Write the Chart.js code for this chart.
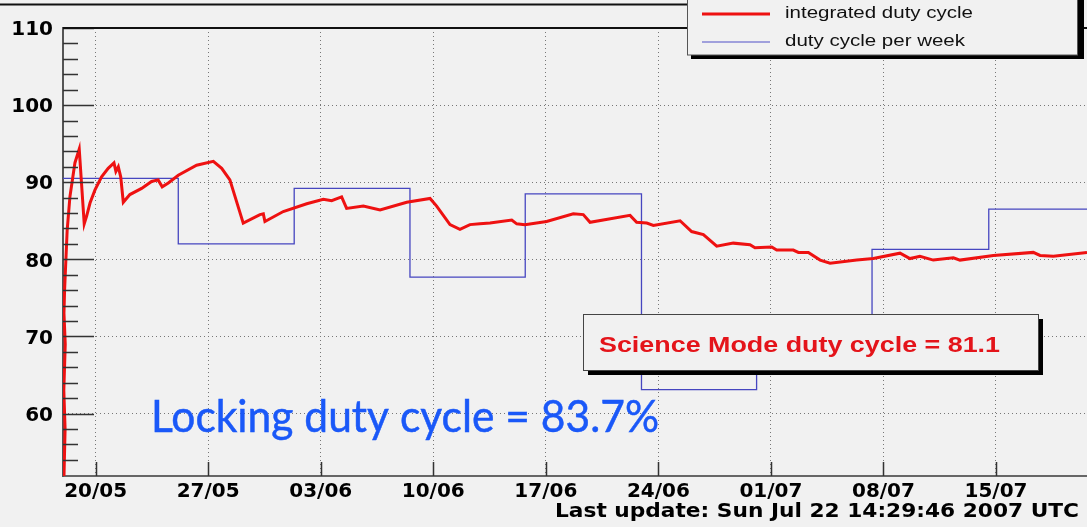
<!DOCTYPE html>
<html>
<head>
<meta charset="utf-8">
<script src="https://cdn.jsdelivr.net/npm/chart.js@4.4.1/dist/chart.umd.min.js"></script>
<style>
  html, body { margin: 0; padding: 0; background: #f1f1f1; }
  canvas { display: block; }
</style>
</head>
<body>
<canvas id="myChart" width="1087" height="527"></canvas>
<script>
// x axis: days counted from 20/05/2007
const tickDays = [0, 7, 14, 21, 28, 35, 42, 49, 56];
const tickLabels = ['20/05', '27/05', '03/06', '10/06', '17/06', '24/06', '01/07', '08/07', '15/07'];
const yTicks = [60, 70, 80, 90, 100, 110];

// integrated duty cycle (red)
const intDays = [-1.99, -1.90, -1.98, -1.89, -1.97, -1.93, -1.77, -1.60, -1.29, -1.02, -0.71, -0.56, -0.35, -0.04, 0.37, 0.78, 1.14, 1.26,
  1.41, 1.56, 1.72, 2.13, 2.86, 3.48, 3.89, 4.14, 4.52, 5.14, 6.28, 7.32, 7.84, 8.35, 9.18,
  10.22, 10.43, 10.53, 11.67, 13.13, 14.16, 14.68, 15.30, 15.61, 16.65, 17.69, 19.35, 20.80, 21.21, 22.04,
  22.66, 23.28, 23.90, 24.53, 25.88, 26.19, 26.70, 28.05, 29.71, 30.33, 30.75, 33.24, 33.65, 34.28, 34.69,
  36.35, 37.07, 37.80, 38.63, 39.66, 40.70, 41.01, 42.05, 42.36, 43.39, 43.71, 44.33, 45.06, 45.68, 47.34,
  48.37, 50.03, 50.65, 51.27, 52.10, 53.35, 53.76, 55.84, 58.32, 58.74, 59.57, 61.66];
const intValues = [50.0, 58.0, 63.0, 69.0, 73.0, 76.1, 83.8, 88.1, 92.5, 94.3, 84.6, 85.6, 87.3, 89.0, 90.7, 91.8, 92.5, 91.4,
  92.0, 90.7, 87.4, 88.4, 89.2, 90.1, 90.3, 89.4, 89.9, 90.9, 92.2, 92.7, 91.8, 90.3, 84.7,
  85.8, 85.9, 84.9, 86.2, 87.2, 87.8, 87.6, 88.1, 86.6, 86.9, 86.4, 87.4, 87.9, 86.9, 84.5,
  83.9, 84.5, 84.6, 84.7, 85.1, 84.6, 84.5, 84.9, 85.9, 85.8, 84.8, 85.7, 84.8, 84.7, 84.4,
  85.0, 83.6, 83.2, 81.7, 82.1, 81.9, 81.5, 81.6, 81.2, 81.2, 80.9, 80.9, 79.9, 79.5, 79.9,
  80.1, 80.8, 80.1, 80.4, 79.9, 80.2, 79.9, 80.5, 80.9, 80.5, 80.4, 80.9];

// duty cycle per week (blue), bin start days and values
const weekStart = [-2.03, 5.14, 12.35, 19.55, 26.72, 33.95, 41.11, 48.29, 55.55, 61.66];
const weekValues = [90.5, 82.0, 89.2, 77.7, 88.5, 63.1, 67.5, 81.3, 86.5, 86.5];

const BG = '#f1f1f1';

function stretchText(ctx, text, x, y, width, stroke) {
  const m = ctx.measureText(text).width;
  ctx.save();
  ctx.translate(x, y);
  ctx.scale(width / m, 1);
  ctx.textAlign = 'left';
  ctx.fillText(text, 0, 0);
  if (stroke) {
    ctx.lineWidth = stroke;
    ctx.strokeStyle = ctx.fillStyle;
    ctx.strokeText(text, 0, 0);
  }
  ctx.restore();
}

const rootStyle = {
  id: 'rootStyle',
  beforeDraw(chart) {
    const ctx = chart.ctx;
    ctx.save();
    ctx.fillStyle = BG;
    ctx.fillRect(0, 0, chart.width, chart.height);
    ctx.restore();
  },
  afterDatasetsDraw(chart) {
    const {ctx, chartArea: a, scales: {x, y}} = chart;
    ctx.save();
    // inner tick marks
    ctx.strokeStyle = '#333';
    ctx.lineWidth = 1.5;
    ctx.beginPath();
    for (let v = 54; v <= 110; v += 2) {
      const py = Math.round(y.getPixelForValue(v)) + 0.5;
      const len = v % 10 === 0 ? 31 : 15;
      ctx.moveTo(a.left, py);
      ctx.lineTo(a.left + len, py);
    }
    tickDays.forEach(d => {
      const px = Math.round(x.getPixelForValue(d)) + 0.5;
      ctx.moveTo(px, a.bottom);
      ctx.lineTo(px, a.bottom - 14);
    });
    ctx.stroke();
    // top frame
    ctx.strokeStyle = '#111';
    ctx.lineWidth = 2;
    ctx.beginPath();
    ctx.moveTo(a.left, a.top);
    ctx.lineTo(a.right, a.top);
    ctx.stroke();
    ctx.restore();
  },
  afterDraw(chart) {
    const ctx = chart.ctx;
    ctx.save();
    // title box edge at top
    ctx.strokeStyle = '#111';
    ctx.lineWidth = 2;
    ctx.beginPath();
    ctx.moveTo(0, 4.5);
    ctx.lineTo(857, 4.5);
    ctx.lineTo(857, -2);
    ctx.stroke();

    // legend box
    ctx.fillStyle = '#000';
    ctx.fillRect(691, 55, 392, 4);
    ctx.fillRect(1078, 0, 6, 59);
    ctx.fillStyle = BG;
    ctx.fillRect(687, -2, 391, 57);
    ctx.strokeStyle = '#555';
    ctx.lineWidth = 1;
    ctx.strokeRect(687.5, -2, 390, 57);
    ctx.lineWidth = 3;
    ctx.strokeStyle = '#ee1111';
    ctx.beginPath(); ctx.moveTo(702, 14); ctx.lineTo(770, 14); ctx.stroke();
    ctx.lineWidth = 1.2;
    ctx.strokeStyle = '#5050c8';
    ctx.beginPath(); ctx.moveTo(702, 42); ctx.lineTo(770, 42); ctx.stroke();
    ctx.fillStyle = '#111';
    ctx.font = '16px "Liberation Sans", Arial, sans-serif';
    ctx.textBaseline = 'middle';
    stretchText(ctx, 'integrated duty cycle', 785, 14, 188);
    stretchText(ctx, 'duty cycle per week', 785, 42, 180);

    // science mode box
    ctx.fillStyle = '#000';
    ctx.fillRect(588, 319, 455, 56);
    ctx.fillStyle = BG;
    ctx.fillRect(583.5, 314.5, 455, 56);
    ctx.strokeStyle = '#444';
    ctx.lineWidth = 1;
    ctx.strokeRect(583.5, 314.5, 455, 56);
    ctx.fillStyle = '#e4141a';
    ctx.font = 'bold 22px "Liberation Sans", Arial, sans-serif';
    ctx.textBaseline = 'alphabetic';
    stretchText(ctx, 'Science Mode duty cycle = 81.1', 599, 351.5, 401);

    // locking text
    ctx.fillStyle = '#1a58f8';
    ctx.font = '44px Lato, "Open Sans", sans-serif';
    stretchText(ctx, 'Locking duty cycle = 83.7%', 151, 431.5, 508, 0.5);

    // last update line
    ctx.fillStyle = '#000';
    ctx.font = 'bold 20px "DejaVu Sans", sans-serif';
    ctx.textBaseline = 'middle';
    stretchText(ctx, 'Last update: Sun Jul 22 14:29:46 2007 UTC', 555, 512, 524);
    ctx.restore();
  }
};

const renderChart = () => {
  const ctx = document.getElementById('myChart').getContext('2d');
  new Chart(ctx, {
    type: 'line',
    data: {
      datasets: [{
        label: 'integrated duty cycle',
        data: intDays.map((d, i) => ({x: d, y: intValues[i]})),
        borderColor: '#ee1111',
        borderWidth: 3,
        pointRadius: 0,
        tension: 0,
        order: 1
      }, {
        label: 'duty cycle per week',
        data: weekStart.map((d, i) => ({x: d, y: weekValues[i]})),
        borderColor: '#4646c0',
        borderWidth: 1.3,
        pointRadius: 0,
        stepped: true,
        order: 2
      }]
    },
    options: {
      responsive: false,
      devicePixelRatio: 1,
      animation: false,
      layout: { padding: { top: 28, right: 0, left: 0, bottom: 0 } },
      plugins: { legend: { display: false }, tooltip: { enabled: false } },
      scales: {
        x: {
          type: 'linear',
          min: -2.03,
          max: 61.66,
          afterBuildTicks: s => { s.ticks = tickDays.map(v => ({value: v})); },
          afterFit: s => { s.height = 51; },
          ticks: {
            autoSkip: false,
            maxRotation: 0,
            padding: 4,
            color: '#000',
            font: { family: '"DejaVu Sans", sans-serif', size: 20, weight: 'bold' },
            callback: v => tickLabels[tickDays.indexOf(v)]
          },
          grid: { color: '#777', lineWidth: 1, drawTicks: false },
          border: { display: true, color: '#666', width: 2, dash: [1, 3] }
        },
        y: {
          min: 51.9,
          max: 110,
          afterBuildTicks: s => { s.ticks = yTicks.map(v => ({value: v})); },
          afterFit: s => { s.width = 63; },
          ticks: {
            padding: 10,
            labelOffset: 2,
            color: '#000',
            font: { family: '"DejaVu Sans", sans-serif', size: 20, weight: 'bold' }
          },
          grid: { color: '#777', lineWidth: 1, drawTicks: false },
          border: { display: true, color: '#555', width: 2, dash: [1, 3] }
        }
      }
    },
    plugins: [rootStyle]
  });
};

renderChart();
</script>
</body>
</html>
